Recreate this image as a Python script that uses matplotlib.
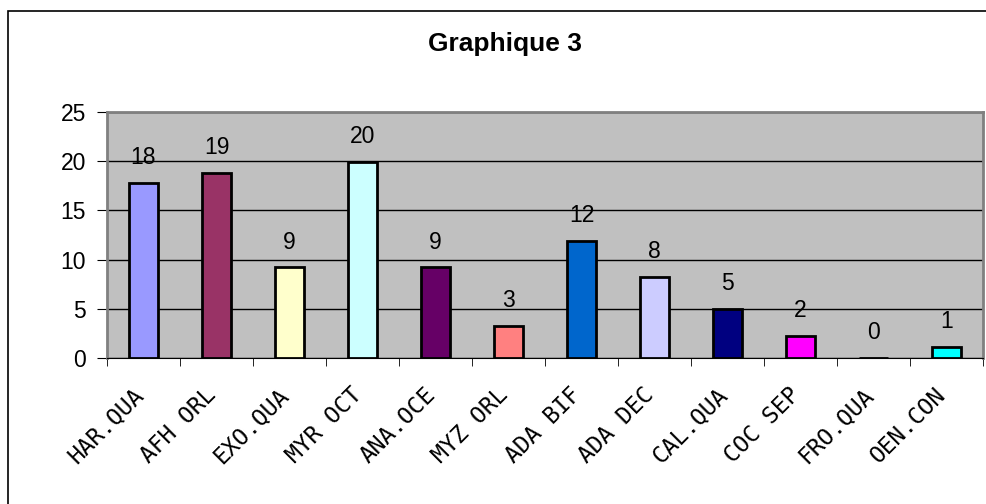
import matplotlib.pyplot as plt
from matplotlib.patches import Rectangle
from matplotlib.transforms import ScaledTranslation
import numpy as np

plt.rcParams['font.family'] = ['Liberation Sans', 'DejaVu Sans']

categories = ["HAR.QUA", "AFH ORL", "EXO.QUA", "MYR OCT", "ANA.OCE", "MYZ ORL",
              "ADA BIF", "ADA DEC", "CAL.QUA", "COC SEP", "FRO.QUA", "OEN.CON"]
heights = [17.8, 18.8, 9.2, 19.9, 9.2, 3.3, 11.9, 8.2, 5.0, 2.2, 0.0, 1.1]
labels = [18, 19, 9, 20, 9, 3, 12, 8, 5, 2, 0, 1]
colors = ["#9999FF", "#993366", "#FFFFCC", "#CCFFFF", "#660066", "#FF8080",
          "#0066CC", "#CCCCFF", "#000080", "#FF00FF", "#FFFF00", "#00FFFF"]


def main():
	fig = plt.figure(figsize=(9.86, 5.04), dpi=100)
	fig.patches.append(Rectangle((8 / 986, -0.1), 1.2, 1.1 - 11 / 504,
	                             transform=fig.transFigure, fill=False,
	                             edgecolor="black", linewidth=1.2))

	ax = fig.add_axes([107 / 986, (504 - 358) / 504, (983 - 107) / 986, (358 - 112) / 504])
	ax.set_facecolor("#C0C0C0")
	x = np.arange(len(categories))
	ax.bar(x, heights, width=0.41, color=colors, edgecolor="black", linewidth=2, zorder=3)
	for xi, h, lab in zip(x, heights, labels):
		ax.annotate(str(lab), (xi, h), xytext=(0, 10), textcoords="offset points",
		            ha="center", va="bottom", fontsize=16.5)

	ax.set_xlim(-0.5, len(categories) - 0.5)
	ax.set_ylim(0, 25)
	ax.set_yticks(range(0, 26, 5))
	ax.yaxis.grid(True, color="black", linewidth=1, zorder=0)
	ax.set_axisbelow(True)
	ax.tick_params(axis="y", labelsize=16.5, length=7, direction="out", pad=8)

	ax.set_xticks(x)
	ax.set_xticklabels(categories, rotation=45, ha="right", rotation_mode="anchor",
	                   fontsize=16.5, family="DejaVu Sans Mono")
	ax.tick_params(axis="x", which="major", length=0, pad=18)
	# Excel-style labels sit a little left of the category centre
	shift = ScaledTranslation(-12 / 100, 0, fig.dpi_scale_trans)
	for t in ax.get_xticklabels():
		t.set_transform(t.get_transform() + shift)
	ax.set_xticks(np.arange(-0.5, len(categories), 1), minor=True)
	ax.tick_params(axis="x", which="minor", length=6, direction="out")

	for side in ["top", "left", "right"]:
		ax.spines[side].set_color("#808080")
		ax.spines[side].set_linewidth(2)
	ax.spines["bottom"].set_color("black")

	fig.text(505 / 986, 1 - 44 / 504, "Graphique 3", ha="center", va="center",
	         fontsize=19, fontweight="bold")

	fig.savefig("out.png", dpi=100)


if __name__ == '__main__':
	main()
